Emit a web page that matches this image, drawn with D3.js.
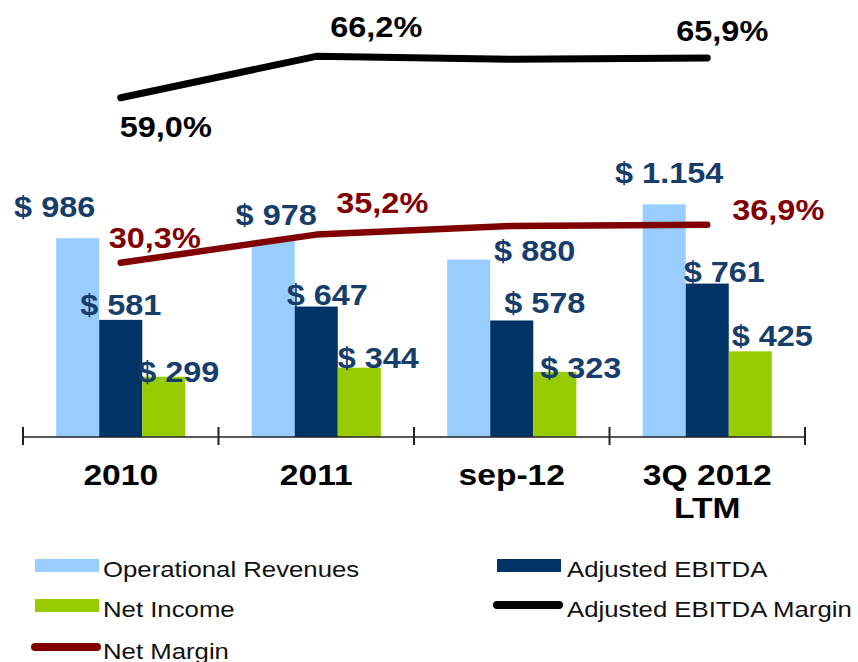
<!DOCTYPE html>
<html>
<head>
<meta charset="utf-8">
<script src="https://cdn.jsdelivr.net/npm/d3@7"></script>
<style>
  html, body { margin: 0; padding: 0; background: #fff; overflow: hidden; }
  svg { display: block; font-family: Arial, "Liberation Sans", sans-serif; }
</style>
</head>
<body>
<svg id="chart" width="858" height="662"></svg>
<script>
// Chart data
const categories = ['2010', '2011', 'sep-12', '3Q 2012 LTM'];
const tickLabels = [['2010'], ['2011'], ['sep-12'], ['3Q 2012', 'LTM']];
const revenues = [986, 978, 880, 1154];
const ebitda = [581, 647, 578, 761];
const netIncome = [299, 344, 323, 425];
const ebitdaMargin = [59.0, 66.2, 65.7, 65.9];
const netMargin = [30.3, 35.2, 36.7, 36.9];
const marginLabelShown = [true, true, false, true];

const barSeries = [
    { name: 'Operational Revenues', values: revenues, color: '#99CCFF' },
    { name: 'Adjusted EBITDA', values: ebitda, color: '#003366' },
    { name: 'Net Income', values: netIncome, color: '#99CC00' }
];
const lineSeries = [
    { name: 'Adjusted EBITDA Margin', values: ebitdaMargin, color: '#000000', width: 7 },
    { name: 'Net Margin', values: netMargin, color: '#800000', width: 6.5 }
];

// hand placed label nudges [dx, dy] (the slide had them moved around)
const barLabelNudge = [
    [[-23, 21], [0, 5], [15, -5]],
    [[3, 15], [11, 2], [19, 0]],
    [[66, -1], [33, 7], [26, -6]],
    [[5, 21], [17, 2], [22, 5]]
];
const marginLabelNudge = [
    [[45, -39], [60, 19], [0, 0], [15, 17]],
    [[34, 15], [66, 22], [0, 0], [71, 5]]
];

const SX = 1.12; // text in the slide is a bit wide
const labelBlue = '#173E6B';

const locale = d3.formatLocale({ decimal: ',', thousands: '.', grouping: [3], currency: ['$ ', ''] });
const fmtMoney = locale.format('$,.0f');
const fmtPct = v => locale.format('.1f')(v) + '%';

const svg = d3.select('#chart');
const axisY = 437;

const x0 = d3.scaleBand().domain(categories).range([23, 805]).paddingInner(0).paddingOuter(0);
const x1 = d3.scaleBand().domain(barSeries.map(s => s.name))
    .range([0, x0.bandwidth()]).paddingInner(0).paddingOuter(0.77);
const y = d3.scaleLinear().domain([0, 1000]).range([axisY, 235.4]);
const yMargin = d3.scaleLinear().domain([0, 76]).range([axisY, 0]);

function placeText(sel, x, yy) {
    return sel.attr('transform', `translate(${x},${yy}) scale(${SX},1)`);
}

// Bars
const groups = svg.append('g').attr('class', 'bars')
    .selectAll('g')
    .data(categories)
    .enter().append('g')
    .attr('transform', d => `translate(${x0(d)},0)`);

groups.selectAll('rect')
    .data((d, i) => barSeries.map(s => ({ series: s, value: s.values[i] })))
    .enter().append('rect')
    .attr('x', d => x1(d.series.name))
    .attr('y', d => y(d.value))
    .attr('width', x1.bandwidth())
    .attr('height', d => axisY - y(d.value))
    .attr('fill', d => d.series.color);

// Axis line with ticks between categories
const axisG = svg.append('g').attr('class', 'x-axis');
axisG.append('line')
    .attr('x1', x0.range()[0]).attr('x2', x0.range()[1])
    .attr('y1', axisY).attr('y2', axisY)
    .attr('stroke', '#222').attr('stroke-width', 1.6);
const boundaries = categories.map(c => x0(c)).concat([x0.range()[1]]);
axisG.selectAll('line.tick')
    .data(boundaries)
    .enter().append('line')
    .attr('class', 'tick')
    .attr('x1', d => d).attr('x2', d => d)
    .attr('y1', axisY - 10).attr('y2', axisY + 8)
    .attr('stroke', '#222').attr('stroke-width', 2);

categories.forEach((c, i) => {
    tickLabels[i].forEach((line, j) => {
        svg.append('text')
            .call(placeText, x0(c) + x0.bandwidth() / 2, 485 + j * 33)
            .attr('text-anchor', 'middle')
            .attr('font-size', 30)
            .attr('font-weight', 'bold')
            .attr('fill', '#000')
            .text(line);
    });
});

// Margin lines
const lineGen = d3.line()
    .x((d, i) => x0(categories[i]) + x0.bandwidth() / 2)
    .y(d => yMargin(d));

lineSeries.forEach(s => {
    svg.append('path')
        .datum(s.values)
        .attr('d', lineGen)
        .attr('fill', 'none')
        .attr('stroke', s.color)
        .attr('stroke-width', s.width)
        .attr('stroke-linecap', 'round')
        .attr('stroke-linejoin', 'round');
});

// Bar value labels
categories.forEach((c, i) => {
    barSeries.forEach((s, k) => {
        const nudge = barLabelNudge[i][k];
        const cx = x0(c) + x1(s.name) + x1.bandwidth() / 2 + nudge[0];
        svg.append('text')
            .call(placeText, cx, y(s.values[i]) - nudge[1])
            .attr('text-anchor', 'middle')
            .attr('font-size', 29)
            .attr('font-weight', 'bold')
            .attr('fill', labelBlue)
            .text(fmtMoney(s.values[i]));
    });
});

// Margin labels
lineSeries.forEach((s, k) => {
    s.values.forEach((v, i) => {
        if (!marginLabelShown[i]) return;
        const nudge = marginLabelNudge[k][i];
        const cx = x0(categories[i]) + x0.bandwidth() / 2 + nudge[0];
        svg.append('text')
            .call(placeText, cx, yMargin(v) - nudge[1])
            .attr('text-anchor', 'middle')
            .attr('font-size', 29)
            .attr('font-weight', 'bold')
            .attr('fill', s.color)
            .text(fmtPct(v));
    });
});

// Legend
const legendItems = [
    { name: 'Operational Revenues', type: 'rect', color: '#99CCFF', col: 0, row: 0 },
    { name: 'Adjusted EBITDA', type: 'rect', color: '#003366', col: 1, row: 0 },
    { name: 'Net Income', type: 'rect', color: '#99CC00', col: 0, row: 1 },
    { name: 'Adjusted EBITDA Margin', type: 'line', color: '#000000', col: 1, row: 1 },
    { name: 'Net Margin', type: 'line', color: '#800000', col: 0, row: 2 }
];
const legendCols = [35, 497];
const legendTextCols = [103, 567];
const legendRows = [577, 617, 659];

const legend = svg.append('g').attr('class', 'legend');
legendItems.forEach(item => {
    const lx = legendCols[item.col];
    const ly = legendRows[item.row];
    if (item.type === 'rect') {
        legend.append('rect')
            .attr('x', lx).attr('y', ly - 18)
            .attr('width', 64).attr('height', 13)
            .attr('fill', item.color);
    } else {
        legend.append('line')
            .attr('x1', lx).attr('x2', lx + 62)
            .attr('y1', ly - 12).attr('y2', ly - 12)
            .attr('stroke', item.color)
            .attr('stroke-width', 8)
            .attr('stroke-linecap', 'round');
    }
    legend.append('text')
        .call(placeText, legendTextCols[item.col], ly)
        .attr('font-size', 23)
        .attr('fill', '#111')
        .text(item.name);
});
</script>
</body>
</html>
